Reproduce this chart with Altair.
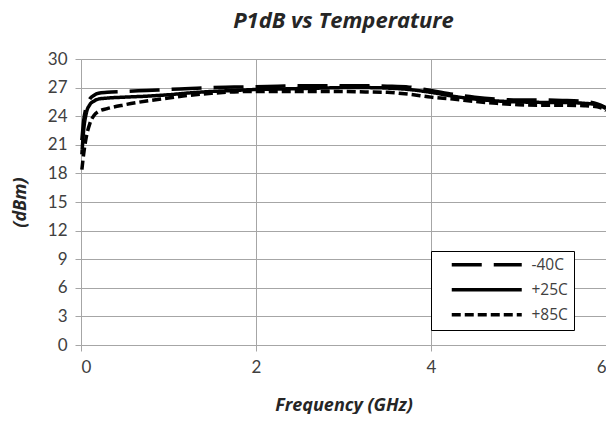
import altair as alt
import pandas as pd

freq = [0.01, 0.03, 0.06, 0.1, 0.15, 0.2, 0.3, 0.5, 0.75, 1.0, 1.25, 1.5, 1.75, 2.0,
        2.25, 2.5, 2.75, 3.0, 3.25, 3.5, 3.75, 4.0, 4.25, 4.5, 4.75, 5.0, 5.25, 5.5,
        5.75, 5.9, 6.0]
m40 = [21.5, 23.5, 25.0, 25.8, 26.2, 26.4, 26.5, 26.6, 26.7, 26.8, 26.9, 27.0, 27.05, 27.1,
       27.15, 27.2, 27.2, 27.2, 27.2, 27.15, 27.05, 26.7, 26.3, 26.0, 25.8, 25.7, 25.7, 25.65,
       25.55, 25.3, 24.9]
p25 = [20.0, 22.5, 24.3, 25.2, 25.6, 25.8, 25.9, 26.0, 26.1, 26.25, 26.45, 26.6, 26.7, 26.8,
       26.85, 26.9, 26.95, 27.0, 27.0, 26.95, 26.8, 26.5, 26.1, 25.8, 25.6, 25.5, 25.45, 25.45,
       25.35, 25.2, 24.8]
p85 = [18.4, 20.0, 21.8, 23.2, 24.1, 24.5, 24.8, 25.2, 25.6, 25.9, 26.2, 26.4, 26.55, 26.6,
       26.6, 26.6, 26.6, 26.6, 26.55, 26.5, 26.3, 26.0, 25.8, 25.55, 25.35, 25.2, 25.15, 25.15,
       25.1, 25.0, 24.6]
series = ["-40C", "+25C", "+85C"]
x_ticks = [0, 2, 4, 6]
y_ticks = [0, 3, 6, 9, 12, 15, 18, 21, 24, 27, 30]

rows = []
for name, vals in zip(series, [m40, p25, p85]):
    for f, v in zip(freq, vals):
        rows.append({"freq": f, "p1db": v, "temp": name})
df = pd.DataFrame(rows)

grid = "#a6a6a6"
lbl_font = "Lato"
ttl_font = "Open Sans"

chart = alt.Chart(df).mark_line(strokeWidth=3.5, color="black", interpolate="monotone").encode(
    x=alt.X("freq:Q", scale=alt.Scale(domain=[0, 6], nice=False),
            axis=alt.Axis(values=x_ticks, title="Frequency (GHz)", format="d")),
    y=alt.Y("p1db:Q", scale=alt.Scale(domain=[0, 30], nice=False),
            axis=alt.Axis(values=y_ticks, title="(dBm)", format="d")),
    strokeDash=alt.StrokeDash("temp:N",
        scale=alt.Scale(domain=series, range=[[30, 12], [1, 0], [9, 4]]),
        legend=alt.Legend(title=None, orient="none", legendX=350, legendY=192,
                          symbolType="M1.4,0H15.4", symbolSize=100,
                          symbolStrokeWidth=3.5, symbolStrokeColor="black",
                          symbolFillColor="transparent",
                          labelOffset=79, labelFont=ttl_font, labelFontSize=15.5,
                          labelColor="#404040", rowPadding=8,
                          strokeColor="black", fillColor="white", padding=6)),
    order=alt.Order("freq:Q"),
).properties(
    width=525, height=286,
    title=alt.Title("P1dB vs Temperature", font=ttl_font, fontSize=22, fontWeight="bold",
                    fontStyle="italic", color="#262626", offset=17, frame="group"),
    autosize=alt.AutoSizeParams(type="none"),
    padding={"left": 73, "top": 51, "right": 0, "bottom": 69},
).configure_view(stroke=None).configure_axis(
    labelFont=lbl_font, labelFontSize=17, labelColor="#404040",
    titleFont=ttl_font, titleFontSize=18, titleFontWeight="bold", titleFontStyle="italic",
    titleColor="#262626",
    gridColor=grid, gridWidth=1, domainColor=grid, tickColor=grid, tickSize=6,
    labelPadding=8,
).configure_axisX(titlePadding=21).configure_axisY(titlePadding=18)

chart.save("out.html", embed_options={"renderer": "svg", "actions": False})
